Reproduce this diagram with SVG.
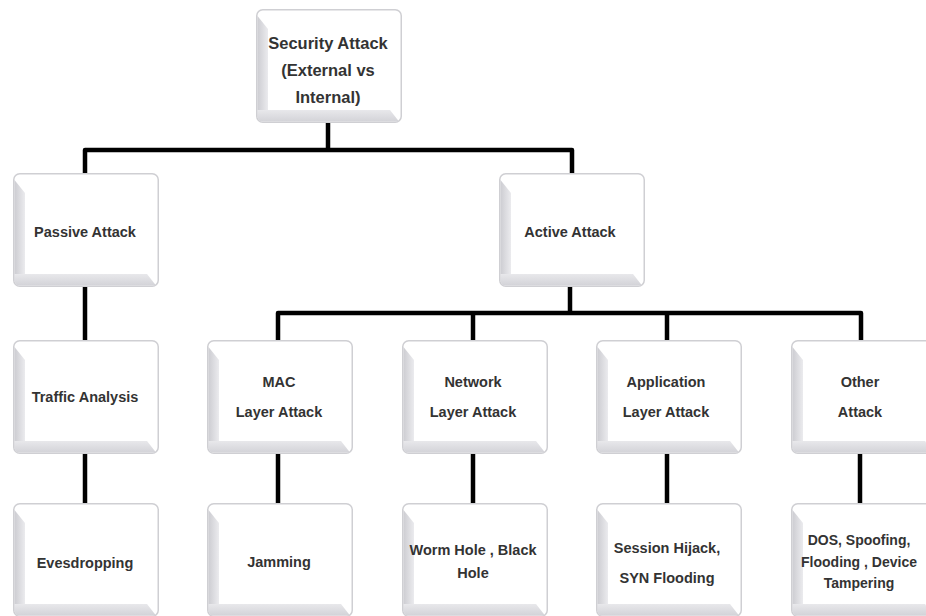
<svg xmlns="http://www.w3.org/2000/svg" xmlns:xlink="http://www.w3.org/1999/xlink" width="926" height="616" viewBox="0 0 926 616">
  <style>
    .t { font-family: "Liberation Sans", Arial, sans-serif; font-weight: bold; font-size: 14.5px; fill: #333; text-anchor: middle; dominant-baseline: central; }
    .tl { font-size: 16.5px; }
    .ts { font-size: 14px; }
    .c { fill: none; stroke: #000; stroke-width: 4.5; stroke-linejoin: round; stroke-linecap: butt; }
  </style>
  <defs>
    <linearGradient id="lg" x1="0" y1="0" x2="1" y2="0">
      <stop offset="0" stop-color="#cdcdd2"/>
      <stop offset="1" stop-color="#ebebee"/>
    </linearGradient>
    <linearGradient id="bg" x1="0" y1="0" x2="0" y2="1">
      <stop offset="0" stop-color="#e8e8eb"/>
      <stop offset="1" stop-color="#d3d3d8"/>
    </linearGradient>
    <symbol id="box" viewBox="0 0 146 114" width="146" height="114" overflow="visible">
      <rect x="0.75" y="0.75" width="144.5" height="112.5" rx="6" fill="#fff" stroke="#cfcfd3" stroke-width="1.5"/>
      <path d="M1.5,7 L12,20 L12,101 L1.5,108 Z" fill="url(#lg)"/>
      <path d="M1.5,101 L12,101 L134,101 L143,112.5 L7,112.5 Q1.5,112.5 1.5,107 Z" fill="url(#bg)"/>
    </symbol>
  </defs>

  <g id="connectors">
    <path class="c" d="M328,122 V150"/>
    <path class="c" d="M85,173 V150 H572 V173"/>
    <path class="c" d="M85,286 V340"/>
    <path class="c" d="M85,453 V503"/>
    <path class="c" d="M570,286 V313"/>
    <path class="c" d="M278,340 V313 H861 V340"/>
    <path class="c" d="M473,313 V340"/>
    <path class="c" d="M667,313 V340"/>
    <path class="c" d="M278,453 V503"/>
    <path class="c" d="M473,453 V503"/>
    <path class="c" d="M667,453 V503"/>
    <path class="c" d="M860,453 V503"/>
  </g>

  <g id="security-attack">
    <use xlink:href="#box" href="#box" x="256" y="9"/>
    <text class="t tl" x="328" y="43">Security Attack</text>
    <text class="t tl" x="328" y="70">(External vs</text>
    <text class="t tl" x="328" y="97">Internal)</text>
  </g>

  <g id="passive-attack">
    <use xlink:href="#box" href="#box" x="13" y="173"/>
    <text class="t" x="85" y="232">Passive Attack</text>
  </g>

  <g id="active-attack">
    <use xlink:href="#box" href="#box" x="499" y="173"/>
    <text class="t" x="570" y="232">Active Attack</text>
  </g>

  <g id="traffic-analysis">
    <use xlink:href="#box" href="#box" x="13" y="340"/>
    <text class="t" x="85" y="397">Traffic Analysis</text>
  </g>

  <g id="mac-layer-attack">
    <use xlink:href="#box" href="#box" x="207" y="340"/>
    <text class="t" x="279" y="382">MAC</text>
    <text class="t" x="279" y="412">Layer Attack</text>
  </g>

  <g id="network-layer-attack">
    <use xlink:href="#box" href="#box" x="402" y="340"/>
    <text class="t" x="473" y="382">Network</text>
    <text class="t" x="473" y="412">Layer Attack</text>
  </g>

  <g id="application-layer-attack">
    <use xlink:href="#box" href="#box" x="596" y="340"/>
    <text class="t" x="666" y="382">Application</text>
    <text class="t" x="666" y="412">Layer Attack</text>
  </g>

  <g id="other-attack">
    <use xlink:href="#box" href="#box" x="791" y="340"/>
    <text class="t" x="860" y="382">Other</text>
    <text class="t" x="860" y="412">Attack</text>
  </g>

  <g id="evesdropping">
    <use xlink:href="#box" href="#box" x="13" y="503"/>
    <text class="t" x="85" y="563">Evesdropping</text>
  </g>

  <g id="jamming">
    <use xlink:href="#box" href="#box" x="207" y="503"/>
    <text class="t" x="279" y="562">Jamming</text>
  </g>

  <g id="worm-hole">
    <use xlink:href="#box" href="#box" x="402" y="503"/>
    <text class="t" x="473" y="550">Worm Hole , Black</text>
    <text class="t" x="473" y="573">Hole</text>
  </g>

  <g id="session-hijack">
    <use xlink:href="#box" href="#box" x="596" y="503"/>
    <text class="t" x="667" y="548">Session Hijack,</text>
    <text class="t" x="667" y="578">SYN Flooding</text>
  </g>

  <g id="dos-spoofing">
    <use xlink:href="#box" href="#box" x="791" y="503"/>
    <text class="t ts" x="859" y="540">DOS, Spoofing,</text>
    <text class="t ts" x="859" y="562">Flooding  , Device</text>
    <text class="t ts" x="859" y="583">Tampering</text>
  </g>
</svg>
